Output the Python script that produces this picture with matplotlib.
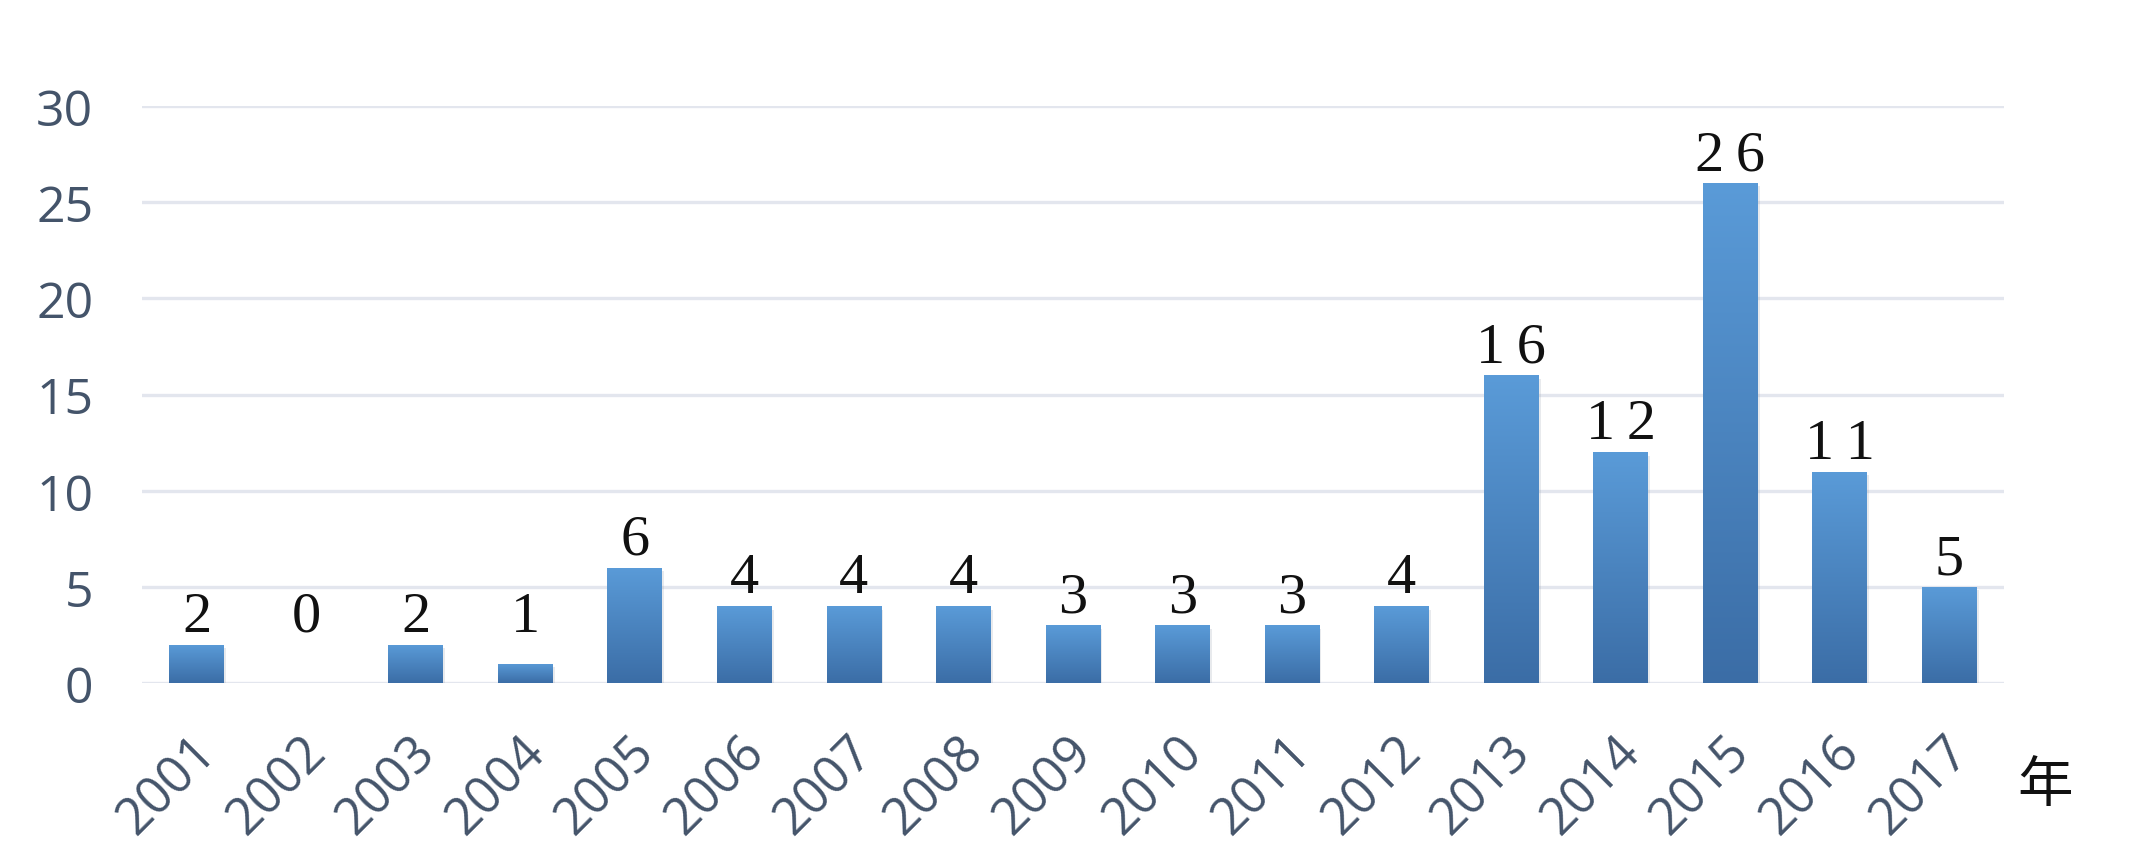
import numpy as np
import matplotlib
matplotlib.use("Agg")
import matplotlib.pyplot as plt
from matplotlib.colors import LinearSegmentedColormap
from matplotlib.transforms import ScaledTranslation
import matplotlib.patheffects as pe

# ---- data ----
years = ["2001", "2002", "2003", "2004", "2005", "2006", "2007", "2008", "2009",
         "2010", "2011", "2012", "2013", "2014", "2015", "2016", "2017"]
counts = [2, 0, 2, 1, 6, 4, 4, 4, 3, 3, 3, 4, 16, 12, 26, 11, 5]
y_ticks = [0, 5, 10, 15, 20, 25, 30]
x_unit_label = "年"

# ---- style ----
TICK_COLOR = "#44546A"
GRID_COLOR = "#E3E6EE"
TOP_COLOR = "#5A9BD8"
BOTTOM_COLOR = "#3B6DA6"
SANS = ["Open Sans", "DejaVu Sans"]
SERIF = ["Liberation Serif", "DejaVu Serif"]

fig = plt.figure(figsize=(21.41, 8.53), dpi=100)
fig.patch.set_facecolor("white")
ax = fig.add_axes([0.0663, 0.198, 0.8697, 0.6765])
ax.set_facecolor("white")

x = np.arange(len(years))
bars = ax.bar(x, counts, width=0.5, color=BOTTOM_COLOR, zorder=3,
              path_effects=[pe.SimplePatchShadow(offset=(1.5, -2.5), alpha=0.18,
                                                 shadow_rgbFace="#8090A0"),
                            pe.Normal()])

# vertical gradient fill on each bar
cmap = LinearSegmentedColormap.from_list("barg", [TOP_COLOR, BOTTOM_COLOR])
grad = np.linspace(0, 1, 256).reshape(-1, 1)
for rect in bars:
    h = rect.get_height()
    if h <= 0:
        continue
    x0 = rect.get_x()
    im = ax.imshow(grad, extent=[x0, x0 + rect.get_width(), 0, h], origin="upper",
                   cmap=cmap, aspect="auto", zorder=4, interpolation="bilinear")
    im.set_clip_path(rect)

# data labels (small values share a common minimum label height, as in reference)
for xi, v in zip(x, counts):
    txt = "\u2009".join(str(v))
    ax.annotate(txt, xy=(xi, max(v, 2)), xytext=(0, 10), textcoords="offset points",
                ha="center", va="baseline", fontsize=42, family=SERIF,
                color="#111111", zorder=5)

ax.set_xlim(-0.5, len(years) - 0.5)
ax.set_ylim(0, 30)
ax.set_yticks(y_ticks)
ax.set_yticklabels([str(t) for t in y_ticks], fontsize=36, color=TICK_COLOR,
                   family=SANS)
ax.set_xticks(x)
ax.set_xticklabels(years, rotation=45, ha="right", va="top",
                   rotation_mode="anchor", fontsize=36.5, color=TICK_COLOR,
                   family=SANS)
ax.tick_params(axis="y", length=0, pad=35)
ax.tick_params(axis="x", length=0, pad=31)
shift = ScaledTranslation(-6 / 100, 0, fig.dpi_scale_trans)
for lab in ax.get_xticklabels():
    lab.set_transform(lab.get_transform() + shift)

ax.grid(axis="y", color=GRID_COLOR, linewidth=2.4, zorder=0)
ax.grid(axis="x", visible=False)
for sp in ax.spines.values():
    sp.set_visible(False)
ax.set_axisbelow(True)

# unit label "年"
ax.text(1.007, -0.177, x_unit_label, transform=ax.transAxes,
        fontsize=40, family=["Noto Sans CJK SC", "DejaVu Sans"], color="#111111",
        ha="left", va="center")

fig.savefig("out.png", dpi=100, facecolor="white")
